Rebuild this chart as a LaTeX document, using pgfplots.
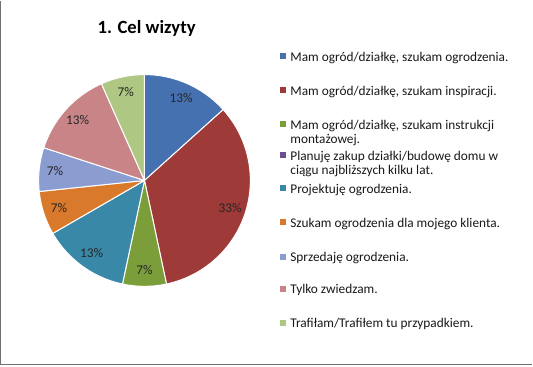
\documentclass[border=0pt]{standalone}
\usepackage{pgfplots}
\pgfplotsset{compat=1.18}
\usepackage{pgfplotstable}
\usepackage{fontspec}
\setmainfont{Carlito}
\definecolor{c1}{HTML}{4571B0}
\definecolor{c2}{HTML}{9E3A38}
\definecolor{c3}{HTML}{7B9E3A}
\definecolor{c4}{HTML}{6A5090}
\definecolor{c5}{HTML}{3A88A8}
\definecolor{c6}{HTML}{D9792B}
\definecolor{c7}{HTML}{8B9CD0}
\definecolor{c8}{HTML}{C98487}
\definecolor{c9}{HTML}{AEC883}
\definecolor{frame}{HTML}{707070}
\newcommand\lblfont{\fontsize{10}{12}\selectfont}

% counts of answers per category
\pgfplotstableread{
val col
2 c1
5 c2
1 c3
0 c4
2 c5
1 c6
1 c7
2 c8
1 c9
}\piedata

\begin{document}
\begin{tikzpicture}[x=0.75pt,y=0.75pt]
\fill[white] (0,0) rectangle (533,366);
\draw[frame, line width=1.1pt] (0.75,366) -- (0.75,1.6) -- (533,1.6);
\node[font=\bfseries\fontsize{14}{17}\selectfont, anchor=base] at (146.8,333.3) {1. Cel wizyty};

\begin{axis}[at={(136.5,175.5)}, anchor=origin, scale only axis,
  width=159pt, height=159pt, xmin=-1, xmax=1, ymin=-1, ymax=1,
  hide axis, clip=false, trig format plots=deg]
\def\total{0}
\pgfplotsforeachungrouped \i in {0,...,8}{%
  \pgfplotstablegetelem{\i}{val}\of\piedata
  \pgfmathsetmacro\total{\total+\pgfplotsretval}%
}
\def\cum{0}
\pgfplotsforeachungrouped \i in {0,...,8}{%
  \pgfplotstablegetelem{\i}{val}\of\piedata \let\v\pgfplotsretval
  \pgfplotstablegetelem{\i}{col}\of\piedata \let\c\pgfplotsretval
  \pgfmathsetmacro\a{90-360*\cum/\total}%
  \pgfmathsetmacro\cumn{\cum+\v}%
  \pgfmathsetmacro\b{90-360*\cumn/\total}%
  \pgfmathsetmacro\mid{(\a+\b)/2}%
  \pgfmathtruncatemacro\pct{round(100*\v/\total)}%
  \ifdim\v pt>0pt
    \edef\temp{\noexpand\addplot[fill=\c, draw=white, line width=0.75pt, line join=round, domain=\b:\a, samples=60] ({cos(x)},{sin(x)}) -- (axis cs:0,0) -- cycle;}%
    \temp
    \edef\temp{\noexpand\node[font=\noexpand\lblfont, text=black!85] at (axis cs:{0.85*cos(\mid)},{0.85*sin(\mid)}) {\pct\noexpand\%};}%
    \temp
  \fi
  \let\cum\cumn
}
\end{axis}

% legend
\begin{scope}[every node/.style={font=\lblfont, anchor=base west, inner sep=0pt, text=black!90}]
\fill[c1] (280.5,366-52.7) rectangle ++(6,-6);
\node at (290.5,366-61) {Mam ogród/działkę, szukam ogrodzenia.};
\fill[c2] (280.5,366-86.2) rectangle ++(6,-6);
\node at (290.5,366-94.5) {Mam ogród/działkę, szukam inspiracji.};
\fill[c3] (280.5,366-120.2) rectangle ++(6,-6);
\node at (290.5,366-128.5) {Mam ogród/działkę, szukam instrukcji};
\node at (290.5,366-143) {montażowej.};
\fill[c4] (280.5,366-151.2) rectangle ++(6,-6);
\node at (290.5,366-159.5) {Planuję zakup działki/budowę domu w};
\node at (290.5,366-174) {ciągu najbliższych kilku lat.};
\fill[c5] (280.5,366-184.3) rectangle ++(6,-6);
\node at (290.5,366-192.6) {Projektuję ogrodzenia.};
\fill[c6] (280.5,366-218.7) rectangle ++(6,-6);
\node at (290.5,366-227) {Szukam ogrodzenia dla mojego klienta.};
\fill[c7] (280.5,366-253.3) rectangle ++(6,-6);
\node at (290.5,366-261.6) {Sprzedaję ogrodzenia.};
\fill[c8] (280.5,366-285.3) rectangle ++(6,-6);
\node at (290.5,366-293.6) {Tylko zwiedzam.};
\fill[c9] (280.5,366-319.3) rectangle ++(6,-6);
\node at (290.5,366-327.6) {Trafiłam/Trafiłem tu przypadkiem.};
\end{scope}
\end{tikzpicture}
\end{document}
